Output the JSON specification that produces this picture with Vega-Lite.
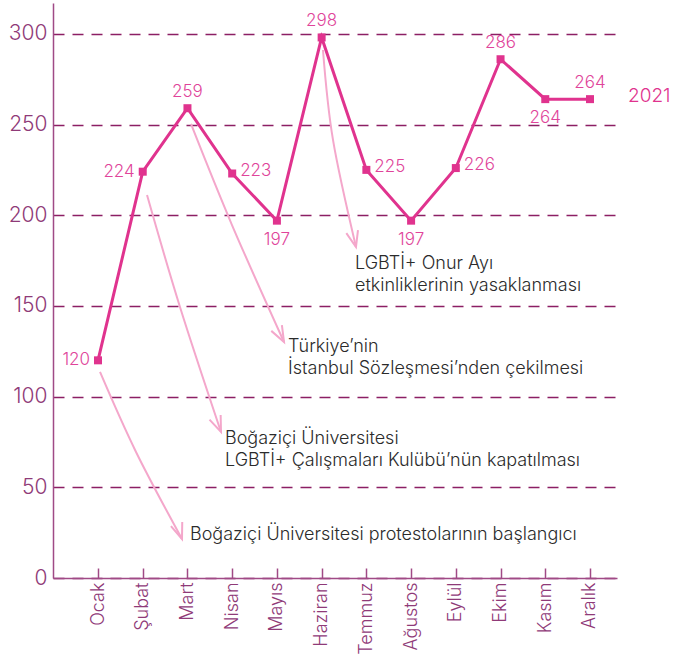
{
  "$schema": "https://vega.github.io/schema/vega-lite/v6.json",
  "width": 564,
  "height": 575,
  "autosize": {"type": "none"},
  "padding": {"left": 53, "top": 3, "right": 56, "bottom": 85},
  "background": "white",
  "config": {
    "view": {"stroke": null},
    "font": "Inter",
    "text": {"font": "Inter"}
  },
  "datasets": {
    "counts": [
      {"month": "Ocak", "value": 120},
      {"month": "Şubat", "value": 224},
      {"month": "Mart", "value": 259},
      {"month": "Nisan", "value": 223},
      {"month": "Mayıs", "value": 197},
      {"month": "Haziran", "value": 298},
      {"month": "Temmuz", "value": 225},
      {"month": "Ağustos", "value": 197},
      {"month": "Eylül", "value": 226},
      {"month": "Ekim", "value": 286},
      {"month": "Kasım", "value": 264},
      {"month": "Aralık", "value": 264}
    ],
    "arrows": [
      {"event": 1, "xi": 0.045, "v": 113.6},
      {"event": 1, "xi": 0.85, "v": 69.5},
      {"event": 1, "xi": 1.878, "v": 21.5},
      {"event": 2, "xi": 1.096, "v": 211.1},
      {"event": 2, "xi": 1.833, "v": 149.4},
      {"event": 2, "xi": 2.75, "v": 80.5},
      {"event": 3, "xi": 2.079, "v": 250.3},
      {"event": 3, "xi": 2.996, "v": 194.6},
      {"event": 3, "xi": 4.159, "v": 130.1},
      {"event": 4, "xi": 5.03, "v": 291.1},
      {"event": 4, "xi": 5.254, "v": 241.5},
      {"event": 4, "xi": 5.768, "v": 182.5}
    ],
    "tips": [
      {"event": 1, "xi": 1.878, "v": 21.5},
      {"event": 2, "xi": 2.75, "v": 80.5},
      {"event": 3, "xi": 4.159, "v": 130.1},
      {"event": 4, "xi": 5.768, "v": 182.5}
    ],
    "notes": [
      {"event": 1, "xi": 2.057, "v": 28.5, "text": "Boğaziçi Üniversitesi protestolarının başlangıcı"},
      {"event": 2, "xi": 2.839, "v": 81.5, "text": "Boğaziçi Üniversitesi\nLGBTİ+ Çalışmaları Kulübü’nün kapatılması"},
      {"event": 3, "xi": 4.248, "v": 132.2, "text": "Türkiye’nin\nİstanbul Sözleşmesi’nden çekilmesi"},
      {"event": 4, "xi": 5.746, "v": 177.9, "text": "LGBTİ+ Onur Ayı\netkinliklerinin yasaklanması"}
    ]
  },
  "resolve": {"scale": {"x": "independent"}},
  "layer": [
    {
      "encoding": {
        "x": {"field": "xi", "type": "quantitative", "axis": null, "scale": {"domain": [-1.0061, 11.6037], "nice": false, "zero": false}},
        "y": {
          "field": "v", "type": "quantitative",
          "scale": {"domain": [0, 317], "nice": false},
          "axis": {"title": null, "values": [0, 50, 100, 150, 200, 250, 300], "labelFontSize": 21, "labelFontWeight": 300, "labelColor": "#8f3a78", "domainColor": "#a04a86", "domainWidth": 1.5, "ticks": false, "labelPadding": 6, "grid": true, "gridColor": "#8c1f64", "gridWidth": 1.3, "gridDash": [11, 8]}
        }
      },
      "layer": [
        {
          "data": {"name": "arrows"},
          "mark": {"type": "line", "interpolate": "cardinal", "stroke": "#f4a7cb", "strokeWidth": 2},
          "encoding": {"detail": {"field": "event"}, "order": {"value": null}}
        },
        {
          "data": {"name": "tips"},
          "transform": [{"filter": "datum.event == 1"}],
          "mark": {"type": "point", "shape": "M -0.38 -1 L 0 0 L 0.38 -1", "filled": false, "size": 1000, "stroke": "#f4a7cb", "strokeWidth": 2, "angle": -20, "opacity": 1}
        },
        {
          "data": {"name": "tips"},
          "transform": [{"filter": "datum.event == 2"}],
          "mark": {"type": "point", "shape": "M -0.38 -1 L 0 0 L 0.38 -1", "filled": false, "size": 1000, "stroke": "#f4a7cb", "strokeWidth": 2, "angle": -22, "opacity": 1}
        },
        {
          "data": {"name": "tips"},
          "transform": [{"filter": "datum.event == 3"}],
          "mark": {"type": "point", "shape": "M -0.38 -1 L 0 0 L 0.38 -1", "filled": false, "size": 1000, "stroke": "#f4a7cb", "strokeWidth": 2, "angle": -28, "opacity": 1}
        },
        {
          "data": {"name": "tips"},
          "transform": [{"filter": "datum.event == 4"}],
          "mark": {"type": "point", "shape": "M -0.38 -1 L 0 0 L 0.38 -1", "filled": false, "size": 1000, "stroke": "#f4a7cb", "strokeWidth": 2, "angle": -14, "opacity": 1}
        },
        {
          "data": {"name": "notes"},
          "mark": {"type": "text", "align": "left", "baseline": "top", "lineBreak": "\n", "lineHeight": 22, "fontSize": 18, "fontWeight": 300, "color": "#2b2b2b"},
          "encoding": {"text": {"field": "text"}}
        }
      ]
    },
    {
      "data": {"name": "counts"},
      "encoding": {
        "x": {
          "field": "month", "type": "nominal", "sort": null,
          "scale": {"type": "point", "domain": ["Ocak", "Şubat", "Mart", "Nisan", "Mayıs", "Haziran", "Temmuz", "Ağustos", "Eylül", "Ekim", "Kasım", "Aralık"], "padding": 0.805, "align": 0.625},
          "axis": {"title": null, "labelAngle": -90, "labelFontSize": 18, "labelFontWeight": 300, "labelColor": "#8f3a78", "domainColor": "#a04a86", "domainWidth": 1.5, "tickColor": "#a04a86", "tickWidth": 1.5, "tickSize": -10, "labelPadding": 14, "grid": false}
        },
        "y": {
          "field": "value", "type": "quantitative",
          "scale": {"domain": [0, 317], "nice": false},
          "axis": {"title": null, "values": [0, 50, 100, 150, 200, 250, 300], "labelFontSize": 21, "labelFontWeight": 300, "labelColor": "#8f3a78", "domainColor": "#a04a86", "domainWidth": 1.5, "ticks": false, "labelPadding": 6, "grid": true, "gridColor": "#8c1f64", "gridWidth": 1.3, "gridDash": [11, 8]}
        }
      },
      "layer": [
        {
          "mark": {"type": "line", "stroke": "#e0338e", "strokeWidth": 3},
          "encoding": {"order": {"value": null}}
        },
        {
          "mark": {"type": "point", "shape": "square", "filled": true, "size": 64, "color": "#e0338e", "opacity": 1}
        },
        {
          "transform": [{"filter": {"field": "month", "oneOf": ["Mart", "Haziran", "Ekim", "Aralık"]}}],
          "mark": {"type": "text", "baseline": "alphabetic", "align": "center", "dy": -11, "fontSize": 17, "fontWeight": 300, "color": "#e0449a"},
          "encoding": {"text": {"field": "value"}}
        },
        {
          "transform": [{"filter": {"field": "month", "oneOf": ["Mayıs", "Ağustos", "Kasım"]}}],
          "mark": {"type": "text", "baseline": "alphabetic", "align": "center", "dy": 24, "fontSize": 17, "fontWeight": 300, "color": "#e0449a"},
          "encoding": {"text": {"field": "value"}}
        },
        {
          "transform": [{"filter": {"field": "month", "oneOf": ["Ocak", "Şubat"]}}],
          "mark": {"type": "text", "baseline": "middle", "align": "right", "dx": -8, "fontSize": 17, "fontWeight": 300, "color": "#e0449a"},
          "encoding": {"text": {"field": "value"}}
        },
        {
          "transform": [{"filter": {"field": "month", "oneOf": ["Nisan", "Temmuz", "Eylül"]}}],
          "mark": {"type": "text", "baseline": "middle", "align": "left", "dx": 8, "dy": -3, "fontSize": 17, "fontWeight": 300, "color": "#e0449a"},
          "encoding": {"text": {"field": "value"}}
        },
        {
          "transform": [{"filter": {"field": "month", "equal": "Aralık"}}],
          "mark": {"type": "text", "baseline": "middle", "align": "left", "dx": 38, "dy": -3, "fontSize": 19, "fontWeight": 300, "color": "#e0338e"},
          "encoding": {"text": {"value": "2021"}}
        }
      ]
    }
  ]
}
